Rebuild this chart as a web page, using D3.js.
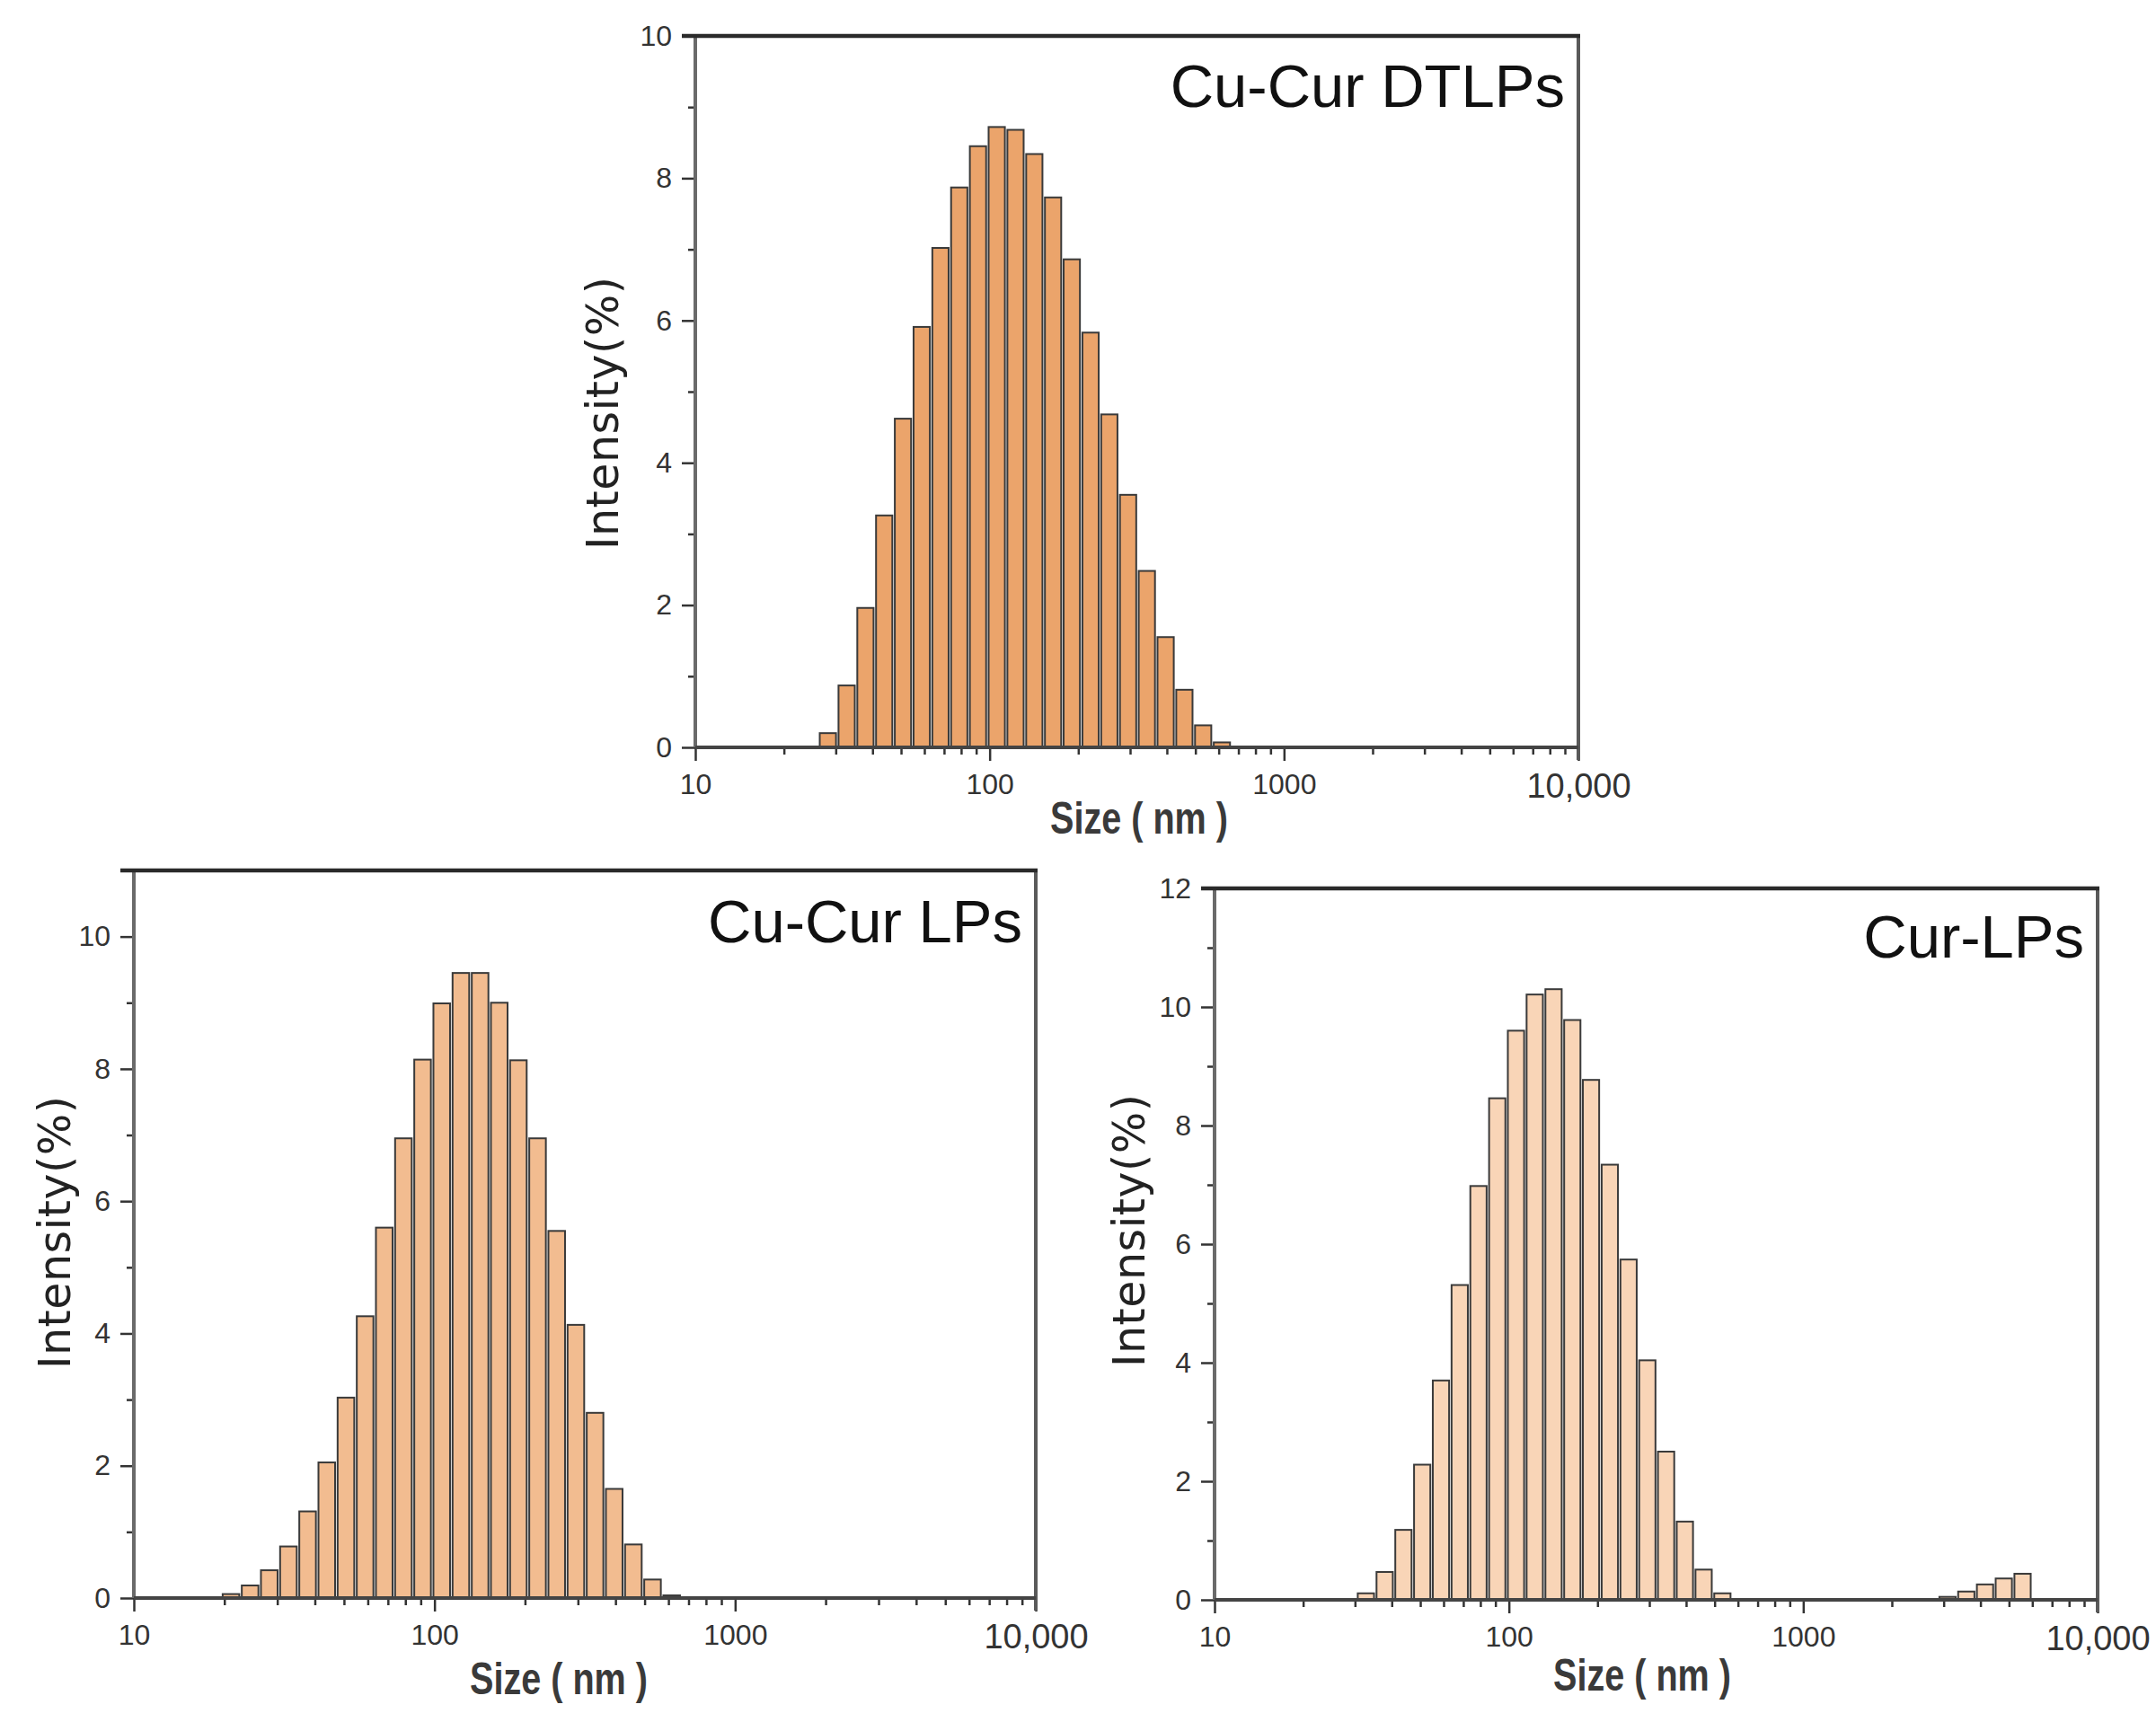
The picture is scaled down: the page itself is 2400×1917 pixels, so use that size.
<!DOCTYPE html>
<html>
<head>
<meta charset="utf-8">
<script src="https://cdn.jsdelivr.net/npm/d3@7"></script>
<style>
  body { margin: 0; background: #fff; }
  svg { display: block; }
</style>
</head>
<body>
<script>
const WIDTH = 2400, HEIGHT = 1917;

// Zetasizer size classes (nm)
const sizesDTLP = [28.21, 32.67, 37.84, 43.82, 50.75, 58.77, 68.06, 78.82, 91.28, 105.7, 122.4,
  141.8, 164.2, 190.1, 220.2, 255.0, 295.3, 342.0, 396.1, 458.7, 531.2, 615.1];
const intensityDTLP = [0.20, 0.87, 1.96, 3.26, 4.62, 5.91, 7.02, 7.87, 8.45, 8.72, 8.68,
  8.34, 7.73, 6.86, 5.83, 4.68, 3.55, 2.48, 1.55, 0.81, 0.31, 0.07];

const sizesCuLP = [21.04, 24.36, 28.21, 32.67, 37.84, 43.82, 50.75, 58.77, 68.06, 78.82, 91.28,
  105.7, 122.4, 141.8, 164.2, 190.1, 220.2, 255.0, 295.3, 342.0, 396.1, 458.7, 531.2, 615.1];
const intensityCuLP = [0.06, 0.19, 0.42, 0.78, 1.31, 2.05, 3.03, 4.26, 5.60, 6.95, 8.14,
  8.99, 9.45, 9.45, 9.00, 8.13, 6.95, 5.55, 4.13, 2.80, 1.65, 0.81, 0.28, 0.04];

const sizesCurLP = [32.67, 37.84, 43.82, 50.75, 58.77, 68.06, 78.82, 91.28, 105.7, 122.4,
  141.8, 164.2, 190.1, 220.2, 255.0, 295.3, 342.0, 396.1, 458.7, 531.2,
  3091, 3580, 4145, 4801, 5560];
const intensityCurLP = [0.11, 0.47, 1.18, 2.28, 3.70, 5.31, 6.98, 8.46, 9.60, 10.21,
  10.30, 9.78, 8.77, 7.34, 5.74, 4.04, 2.50, 1.32, 0.51, 0.11,
  0.05, 0.14, 0.26, 0.36, 0.44];

const xMajor = [10, 100, 1000, 10000];
const xLabels = ["10", "100", "1000", "10,000"];
const titles = ["Cu-Cur DTLPs", "Cu-Cur LPs", "Cur-LPs"];
const yLabel = "Intensity(%)";
const xLabel = "Size ( nm )";

const BIN_RATIO = 1.1557;   // ratio between neighbouring size classes
const BAR_FRAC = 0.44;      // half bar width, in bins

// panel layout
const panels = [
  {sizes: sizesDTLP, vals: intensityDTLP, title: titles[0], yMax: 10, fill: "#eba46b",
   l: 774, r: 1757, t: 40, b: 832, yLabX: 688, yLabY: 460, xLabX: 1268, xLabY: 928, titleY: 119},
  {sizes: sizesCuLP, vals: intensityCuLP, title: titles[1], yMax: 11, fill: "#f2bc90",
   l: 149, r: 1153, t: 969, b: 1779, yLabX: 78, yLabY: 1372, xLabX: 622, xLabY: 1886, titleY: 1049},
  {sizes: sizesCurLP, vals: intensityCurLP, title: titles[2], yMax: 12, fill: "#f9d5b7",
   l: 1352, r: 2335, t: 989, b: 1781, yLabX: 1274, yLabY: 1370, xLabX: 1828, xLabY: 1882, titleY: 1066}
];

const svg = d3.select("body").append("svg")
  .attr("width", WIDTH).attr("height", HEIGHT);

function drawPanel(p) {
  const g = svg.append("g");
  const x = d3.scaleLog().domain([10, 10000]).range([p.l, p.r]);
  const y = d3.scaleLinear().domain([0, p.yMax]).range([p.b, p.t]);

  // bars
  g.append("g").selectAll("rect")
    .data(p.sizes.map((s, i) => ({s: s, v: p.vals[i]})))
    .join("rect")
    .attr("x", d => x(d.s * Math.pow(BIN_RATIO, -BAR_FRAC)))
    .attr("width", d => x(d.s * Math.pow(BIN_RATIO, BAR_FRAC)) - x(d.s * Math.pow(BIN_RATIO, -BAR_FRAC)))
    .attr("y", d => y(d.v))
    .attr("height", d => y(0) - y(d.v))
    .style("fill", p.fill)
    .style("stroke", "#3a3a3a")
    .style("stroke-width", 2);

  // minor ticks
  const xMinor = x.ticks().filter(v => xMajor.indexOf(v) < 0);
  g.append("g").attr("transform", `translate(0,${p.b})`)
    .call(d3.axisBottom(x).tickValues(xMinor).tickSize(8).tickFormat(""))
    .call(a => a.select(".domain").remove());
  const yMinor = y.ticks(p.yMax).filter(v => v % 2 === 1);
  g.append("g").attr("transform", `translate(${p.l},0)`)
    .call(d3.axisLeft(y).tickValues(yMinor).tickSize(8).tickFormat(""))
    .call(a => a.select(".domain").remove());

  // major ticks
  const xAx = g.append("g").attr("class", "xax").attr("transform", `translate(0,${p.b})`)
    .call(d3.axisBottom(x).tickValues(xMajor).tickSize(15).tickPadding(14)
      .tickFormat((d, i) => xLabels[i]));
  xAx.select(".domain").remove();
  xAx.selectAll("text")
    .style("font-size", d => d === 10000 ? "38px" : "32px")
    .attr("dy", "0.72em");

  const yAx = g.append("g").attr("class", "yax").attr("transform", `translate(${p.l},0)`)
    .call(d3.axisLeft(y).tickValues(d3.range(0, p.yMax + 1, 2)).tickSize(15).tickPadding(11));
  yAx.select(".domain").remove();
  yAx.selectAll("text").style("font-size", "32px");

  g.selectAll(".tick line").style("stroke", "#333").style("stroke-width", 2.5);
  g.selectAll(".tick text").style("fill", "#333")
    .style("font-family", "'Liberation Sans', Arial, sans-serif");

  // frame
  g.append("line").attr("x1", p.l).attr("x2", p.l).attr("y1", p.t).attr("y2", p.b)
    .style("stroke", "#6a6a6a").style("stroke-width", 4);
  g.append("line").attr("x1", p.r).attr("x2", p.r).attr("y1", p.t).attr("y2", p.b + 14)
    .style("stroke", "#5a5a5a").style("stroke-width", 4);
  g.append("line").attr("x1", p.l).attr("x2", p.r).attr("y1", p.b).attr("y2", p.b)
    .style("stroke", "#444").style("stroke-width", 4);
  g.append("line").attr("x1", p.l - 15).attr("x2", p.r + 2).attr("y1", p.t).attr("y2", p.t)
    .style("stroke", "#2a2a2a").style("stroke-width", 4.5);

  // texts
  g.append("text")
    .attr("x", p.r - 15).attr("y", p.titleY)
    .attr("text-anchor", "end")
    .style("font-family", "'Liberation Sans', Arial, sans-serif")
    .style("font-size", "67px")
    .style("fill", "#111")
    .text(p.title);

  g.append("text")
    .attr("transform", `translate(${p.yLabX},${p.yLabY}) rotate(-90)`)
    .attr("text-anchor", "middle")
    .attr("textLength", 304)
    .attr("lengthAdjust", "spacing")
    .style("font-family", "'DejaVu Sans', Verdana, sans-serif")
    .style("font-size", "49px")
    .style("fill", "#222")
    .text(yLabel);

  g.append("text")
    .attr("x", p.xLabX).attr("y", p.xLabY)
    .attr("text-anchor", "middle")
    .attr("textLength", 198)
    .attr("lengthAdjust", "spacingAndGlyphs")
    .style("font-family", "'Liberation Sans Narrow', 'Arial Narrow', 'Liberation Sans', sans-serif")
    .style("font-size", "50px")
    .style("font-weight", "bold")
    .style("fill", "#3a3a3a")
    .text(xLabel);
}

panels.forEach(drawPanel);
</script>
</body>
</html>
